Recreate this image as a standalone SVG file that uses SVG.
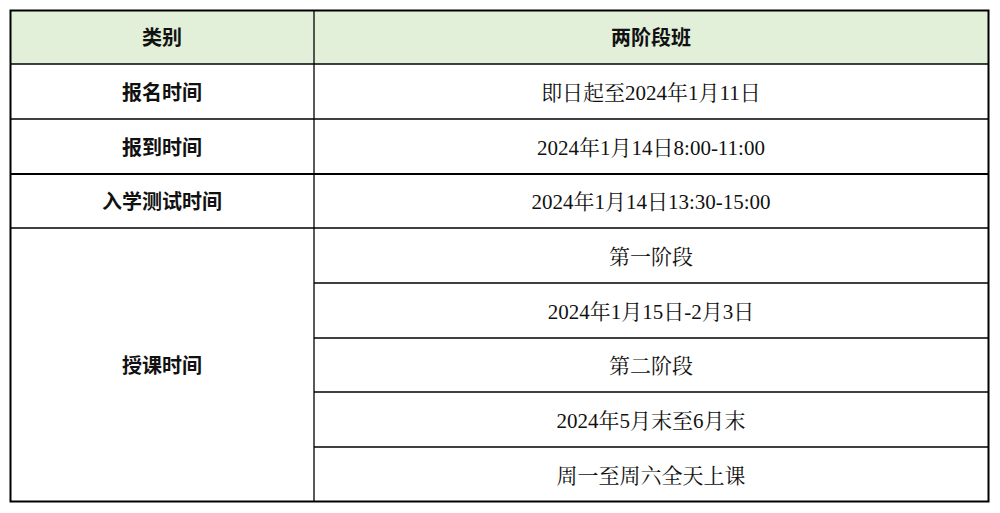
<svg xmlns="http://www.w3.org/2000/svg" width="1000" height="513" viewBox="0 0 1000 513">
<style>
.l{font-family:"Noto Sans CJK SC","Liberation Sans",sans-serif;font-size:20px;font-weight:bold;fill:#111;text-anchor:middle}
.r{font-family:"Liberation Serif","Noto Serif CJK SC","Noto Sans CJK SC",serif;font-size:21px;fill:#111;text-anchor:middle}
.g line{stroke:#000;stroke-width:1.3}
</style>
<rect x="11" y="11" width="977" height="53" fill="#e2f0d9"/>
<g id="connectors" class="g">
<line x1="314" y1="10" x2="314" y2="501"/>
<line x1="10" y1="64" x2="988" y2="64"/>
<line x1="10" y1="119" x2="988" y2="119"/>
<line x1="10" y1="174" x2="988" y2="174" style="stroke-width:2"/>
<line x1="10" y1="228" x2="988" y2="228"/>
<line x1="314" y1="283" x2="988" y2="283"/>
<line x1="314" y1="338" x2="988" y2="338"/>
<line x1="314" y1="392" x2="988" y2="392"/>
<line x1="314" y1="447" x2="988" y2="447"/>
</g>
<rect x="10.5" y="10.5" width="978" height="491" fill="none" stroke="#000" stroke-width="2"/>
<g id="h1"><text class="l" x="162" y="45">类别</text></g>
<g id="h2"><text class="l" x="651" y="45">两阶段班</text></g>
<g id="n1"><text class="l" x="162" y="100">报名时间</text><text class="r" x="651" y="100">即日起至2024年1月11日</text></g>
<g id="n2"><text class="l" x="162" y="155">报到时间</text><text class="r" x="651" y="155">2024年1月14日8:00-11:00</text></g>
<g id="n3"><text class="l" x="162" y="209">入学测试时间</text><text class="r" x="651" y="209">2024年1月14日13:30-15:00</text></g>
<g id="n4"><text class="l" x="162" y="373">授课时间</text>
<text class="r" x="651" y="264">第一阶段</text>
<text class="r" x="651" y="319">2024年1月15日-2月3日</text>
<text class="r" x="651" y="373">第二阶段</text>
<text class="r" x="651" y="428">2024年5月末至6月末</text>
<text class="r" x="651" y="483">周一至周六全天上课</text></g>
</svg>
